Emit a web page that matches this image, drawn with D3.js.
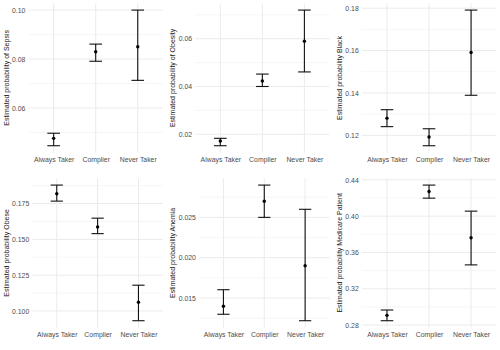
<!DOCTYPE html>
<html>
<head>
<meta charset="utf-8">
<script src="https://cdn.jsdelivr.net/npm/d3@7"></script>
<style>
  body { margin: 0; background: #fff; }
  svg text { font-family: "Liberation Sans", Arial, Helvetica, sans-serif; }
</style>
</head>
<body>
<svg id="chart" width="500" height="350"></svg>
<script>
const WIDTH = 500;
const HEIGHT = 350;
const COLS = 3;
const ROWS = 2;

const groups = ["Always Taker", "Complier", "Never Taker"];

const titles = [
  "Estimated probability of Sepsis",
  "Estimated probability of Obesity",
  "Estimated probability Black",
  "Estimated probability Obese",
  "Estimated probability Anemia",
  "Estimated probability Medicare Patient",
];

// estimate, lower, upper per group (Always Taker, Complier, Never Taker)
const estimates = [
  [0.0476, 0.083, 0.085],
  [0.0172, 0.0423, 0.059],
  [0.1281, 0.1192, 0.1591],
  [0.1818, 0.1587, 0.1061],
  [0.014, 0.027, 0.019],
  [0.2907, 0.4271, 0.3762],
];
const lowers = [
  [0.0446, 0.0791, 0.0713],
  [0.0152, 0.040, 0.0461],
  [0.1241, 0.1151, 0.1389],
  [0.1767, 0.154, 0.0932],
  [0.013, 0.025, 0.0122],
  [0.2848, 0.4198, 0.3463],
];
const uppers = [
  [0.0497, 0.0861, 0.100],
  [0.0183, 0.0452, 0.072],
  [0.1321, 0.1231, 0.1791],
  [0.1879, 0.1648, 0.118],
  [0.01604, 0.029, 0.026],
  [0.2966, 0.4342, 0.4055],
];

const tickValues = [
  [0.06, 0.08, 0.10],
  [0.02, 0.04, 0.06],
  [0.12, 0.14, 0.16, 0.18],
  [0.100, 0.125, 0.150, 0.175],
  [0.015, 0.020, 0.025],
  [0.28, 0.32, 0.36, 0.40, 0.44],
];
const tickLabels = [
  ["0.06", "0.08", "0.10"],
  ["0.02", "0.04", "0.06"],
  ["0.12", "0.14", "0.16", "0.18"],
  ["0.100", "0.125", "0.150", "0.175"],
  ["0.015", "0.020", "0.025"],
  ["0.28", "0.32", "0.36", "0.40", "0.44"],
];

const cellW = WIDTH / COLS;
const cellH = HEIGHT / ROWS;
const svg = d3.select("#chart");

titles.forEach((title, k) => {
  const col = k % COLS;
  const row = Math.floor(k / COLS);
  const g = svg.append("g")
    .attr("transform", `translate(${col * cellW},${row * cellH})`);

  // measure tick label width to place the panel like ggplot does
  const probe = g.append("g").attr("font-size", 6.9);
  let labW = 0;
  tickLabels[k].forEach((t) => {
    const n = probe.append("text").text(t);
    labW = Math.max(labW, n.node().getComputedTextLength());
  });
  probe.remove();

  const left = 12 + labW + 3;
  const right = cellW - 3.7;
  const top = 3.3;
  const bottom = 152.5;

  const lo = d3.min(lowers[k]);
  const hi = d3.max(uppers[k]);
  const pad = (hi - lo) * 0.05;

  const x = d3.scalePoint().domain(groups).range([left, right]).padding(0.6);
  const y = d3.scaleLinear().domain([lo - pad, hi + pad]).range([bottom, top]);

  // minor grid lines halfway between major breaks
  const tv = tickValues[k];
  const stepT = tv[1] - tv[0];
  const minors = [];
  for (let i = -1; i < tv.length; i++) {
    const m = tv[0] + (i + 0.5) * stepT;
    if (m >= y.domain()[0] && m <= y.domain()[1]) minors.push(m);
  }
  g.append("g").selectAll("line").data(minors).enter().append("line")
    .attr("x1", left).attr("x2", right)
    .attr("y1", (d) => y(d)).attr("y2", (d) => y(d))
    .attr("stroke", "#f0f0f0").attr("stroke-width", 0.6);

  // major grid lines
  g.append("g").selectAll("line").data(tv).enter().append("line")
    .attr("x1", left).attr("x2", right)
    .attr("y1", (d) => y(d)).attr("y2", (d) => y(d))
    .attr("stroke", "#ebebeb").attr("stroke-width", 1);
  g.append("g").selectAll("line").data(groups).enter().append("line")
    .attr("x1", (d) => x(d)).attr("x2", (d) => x(d))
    .attr("y1", top).attr("y2", bottom)
    .attr("stroke", "#ebebeb").attr("stroke-width", 1);

  // y axis
  const yAxis = d3.axisLeft(y)
    .tickValues(tv)
    .tickFormat((d, i) => tickLabels[k][i])
    .tickSize(0)
    .tickPadding(3);
  const ya = g.append("g").attr("transform", `translate(${left},0)`).call(yAxis);
  ya.select(".domain").remove();
  ya.selectAll("text").attr("font-size", 6.9).attr("fill", "#4d4d4d")
    .attr("font-family", null);

  // x axis
  const xAxis = d3.axisBottom(x).tickSize(0).tickPadding(5);
  const xa = g.append("g").attr("transform", `translate(0,${bottom})`).call(xAxis);
  xa.select(".domain").remove();
  xa.selectAll("text").attr("font-size", 6.9).attr("fill", "#4d4d4d")
    .attr("font-family", null);

  // y title
  g.append("text")
    .attr("transform", `translate(8.5,${(top + bottom) / 2}) rotate(-90)`)
    .attr("text-anchor", "middle")
    .attr("font-size", 7)
    .attr("fill", "#1a1a1a")
    .text(title);

  // error bars
  const cap = x.step() * 0.15;
  const bars = g.append("g").attr("stroke", "#111").attr("stroke-width", 1.1);
  groups.forEach((grp, i) => {
    const cx = x(grp);
    bars.append("line").attr("x1", cx).attr("x2", cx)
      .attr("y1", y(lowers[k][i])).attr("y2", y(uppers[k][i]));
    bars.append("line").attr("x1", cx - cap).attr("x2", cx + cap)
      .attr("y1", y(lowers[k][i])).attr("y2", y(lowers[k][i]));
    bars.append("line").attr("x1", cx - cap).attr("x2", cx + cap)
      .attr("y1", y(uppers[k][i])).attr("y2", y(uppers[k][i]));
  });

  g.append("g").selectAll("circle").data(groups).enter().append("circle")
    .attr("cx", (d) => x(d))
    .attr("cy", (d, i) => y(estimates[k][i]))
    .attr("r", 1.7)
    .attr("fill", "#000");
});
</script>
</body>
</html>
